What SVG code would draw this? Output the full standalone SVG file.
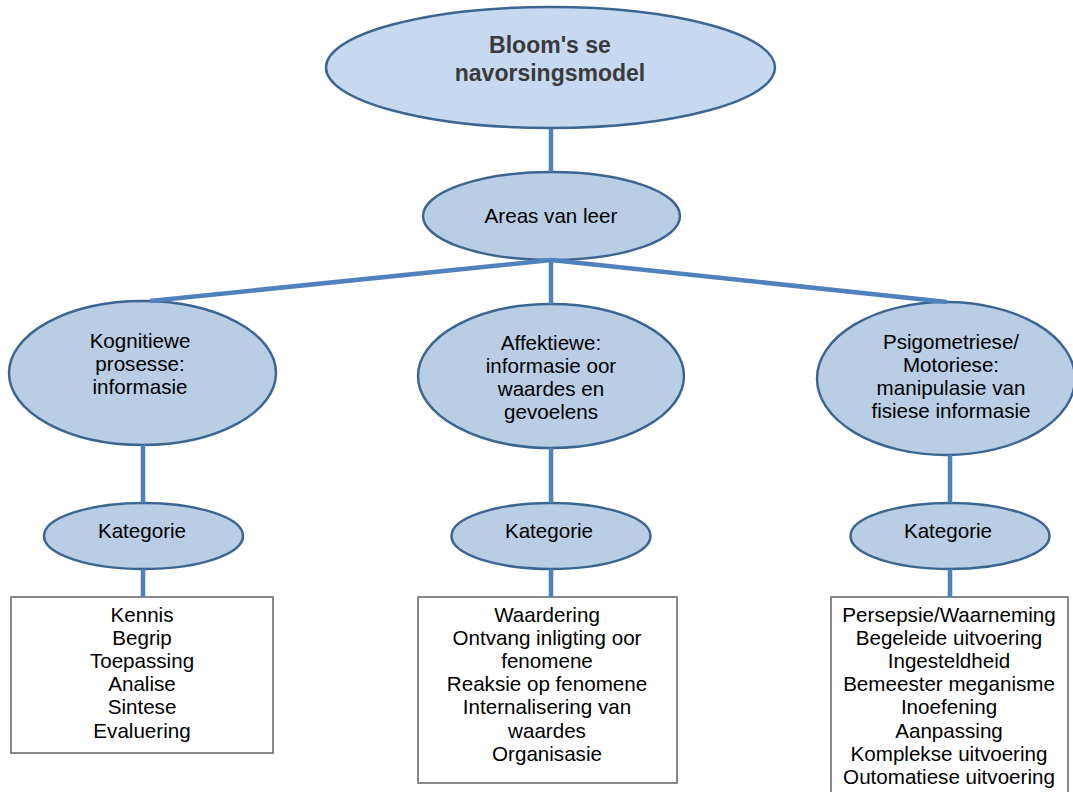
<svg xmlns="http://www.w3.org/2000/svg" width="1073" height="792" viewBox="0 0 1073 792">
  <style>
    .root { fill: #c6d9f1; stroke: #3d6592; stroke-width: 2.5; }
    .oval { fill: #b9cde5; stroke: #3d6592; stroke-width: 2.5; }
    .box { fill: #ffffff; stroke: #6b6b6b; stroke-width: 1.6; }
    .link { stroke: #4f81bd; stroke-width: 4.5; fill: none; }
    text { font-family: "Liberation Sans", Arial, sans-serif; font-size: 20.6px; fill: #000000; text-anchor: middle; }
    .title { font-weight: bold; font-size: 23px; fill: #3a3a3a; }
  </style>
  <rect x="0" y="0" width="1073" height="792" fill="#ffffff"/>

  <g id="bloom">
    <ellipse class="root" cx="550.5" cy="67.5" rx="224.5" ry="60.5"/>
    <text class="title" x="550" y="53">Bloom's se</text>
    <text class="title" x="550" y="81">navorsingsmodel</text>
  </g>

  <g id="areas">
    <ellipse class="oval" cx="551.5" cy="216" rx="128.5" ry="44"/>
    <text x="551" y="223">Areas van leer</text>
  </g>

  <g id="kognitief">
    <ellipse class="oval" cx="142.5" cy="373" rx="133.5" ry="72"/>
    <text x="140" y="348">Kognitiewe</text>
    <text x="140" y="371">prosesse:</text>
    <text x="140" y="394">informasie</text>
  </g>

  <g id="affektief">
    <ellipse class="oval" cx="551" cy="376" rx="133" ry="72"/>
    <text x="551" y="350">Affektiewe:</text>
    <text x="551" y="373">informasie oor</text>
    <text x="551" y="396">waardes en</text>
    <text x="551" y="419">gevoelens</text>
  </g>

  <g id="psigomotories">
    <ellipse class="oval" cx="946" cy="378.5" rx="129" ry="76.5"/>
    <text x="951" y="349">Psigometriese/</text>
    <text x="951" y="372">Motoriese:</text>
    <text x="951" y="395">manipulasie van</text>
    <text x="951" y="418">fisiese informasie</text>
  </g>

  <g id="kategorie-kognitief">
    <ellipse class="oval" cx="143.5" cy="536" rx="99.5" ry="33"/>
    <text x="142" y="538">Kategorie</text>
  </g>

  <g id="kategorie-affektief">
    <ellipse class="oval" cx="551" cy="536" rx="99.5" ry="33"/>
    <text x="549" y="538">Kategorie</text>
  </g>

  <g id="kategorie-psigomotories">
    <ellipse class="oval" cx="950" cy="536" rx="99.5" ry="33"/>
    <text x="948" y="538">Kategorie</text>
  </g>

  <g id="lys-kognitief">
    <rect class="box" x="11" y="597" width="262" height="156"/>
    <text x="142" y="622">Kennis</text>
    <text x="142" y="645">Begrip</text>
    <text x="142" y="668">Toepassing</text>
    <text x="142" y="691">Analise</text>
    <text x="142" y="714">Sintese</text>
    <text x="142" y="738">Evaluering</text>
  </g>

  <g id="lys-affektief">
    <rect class="box" x="418" y="597" width="259" height="186"/>
    <text x="547" y="622">Waardering</text>
    <text x="547" y="645">Ontvang inligting oor</text>
    <text x="547" y="668">fenomene</text>
    <text x="547" y="691">Reaksie op fenomene</text>
    <text x="547" y="714">Internalisering van</text>
    <text x="547" y="738">waardes</text>
    <text x="547" y="761">Organisasie</text>
  </g>

  <g id="lys-psigomotories">
    <rect class="box" x="831" y="597" width="237" height="210"/>
    <text x="949" y="622">Persepsie/Waarneming</text>
    <text x="949" y="645">Begeleide uitvoering</text>
    <text x="949" y="668">Ingesteldheid</text>
    <text x="949" y="691">Bemeester meganisme</text>
    <text x="949" y="714">Inoefening</text>
    <text x="949" y="738">Aanpassing</text>
    <text x="949" y="761">Komplekse uitvoering</text>
    <text x="949" y="784">Outomatiese uitvoering</text>
  </g>

  <g id="connectors">
    <path class="link" d="M551 129 V172"/>
    <path class="link" d="M551 260 L150 301"/>
    <path class="link" d="M551 260 V304"/>
    <path class="link" d="M551 260 L947 302"/>
    <path class="link" d="M143 445 V503 M143 569 V597"/>
    <path class="link" d="M551 448 V503 M551 569 V597"/>
    <path class="link" d="M950 455 V503 M950 569 V597"/>
  </g>
</svg>
